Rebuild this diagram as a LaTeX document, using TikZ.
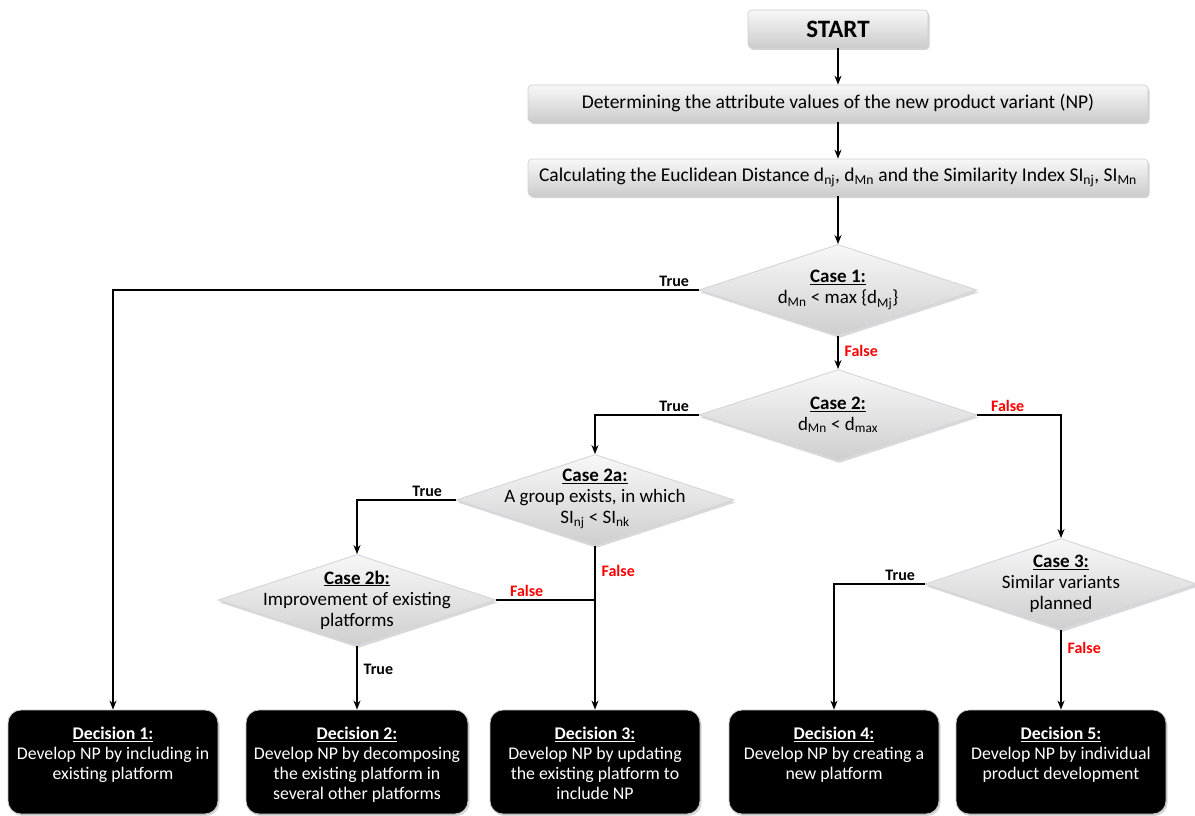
\documentclass[tikz,border=0pt]{standalone}
\usepackage{fontspec}
\setmainfont{Carlito}
\usetikzlibrary{shapes.geometric,arrows.meta,shadows}
\begin{document}
\begin{tikzpicture}[x=1pt,y=-1pt,
  every node/.style={inner sep=0pt},
  gbox/.style={rectangle, rounded corners=4pt, top color=gray!6, bottom color=gray!40,
    draw=blue!8!gray!35, line width=0.7pt,
    drop shadow={shadow xshift=1.5pt, shadow yshift=-2pt, opacity=0.35}},
  dia/.style={diamond, top color=gray!6, bottom color=gray!38, draw=blue!12!gray!30,
    line width=0.9pt, minimum width=278pt, minimum height=91pt,
    drop shadow={shadow xshift=1.5pt, shadow yshift=-2.5pt, opacity=0.3}},
  dec/.style={rectangle, rounded corners=13pt, fill=black, draw=gray!45, line width=0.8pt,
    minimum width=210pt, minimum height=104pt,
    drop shadow={shadow xshift=1.5pt, shadow yshift=-2pt, opacity=0.3}},
  btxt/.style={align=center, font=\fontsize{19.5}{22}\selectfont},
  dtxt/.style={align=center, font=\fontsize{19}{21}\selectfont},
  wtxt/.style={align=center, font=\fontsize{17.8}{20}\selectfont, text=white, anchor=north, yshift=-17pt},
  arr/.style={-{Stealth[length=9pt,width=7pt]}, line width=1.3pt},
  ln/.style={line width=1.3pt},
  tl/.style={font=\bfseries\fontsize{16}{18}\selectfont},
  fl/.style={tl, text=red},
]
\useasboundingbox (0,0) rectangle (1195,816);

% top boxes
\node[gbox, minimum width=180pt, minimum height=38pt] (start) at (838,29) {};
\node[font=\bfseries\fontsize{25}{28}\selectfont] (startt) at (start) {START};
\node[gbox, minimum width=620pt, minimum height=37pt] (b1) at (838,103.5) {};
\node[btxt] (b1t) at (b1) {Determining the attribute values of the new product variant (NP)};
\node[gbox, minimum width=620pt, minimum height=37pt] (b2) at (838,177.5) {};
\node[btxt] (b2t) at (b2) {Calculating the Euclidean Distance d\textsubscript{nj}, d\textsubscript{Mn} and the Similarity Index SI\textsubscript{nj}, SI\textsubscript{Mn}};

% decisions (diamonds)
\node[dia] (c1) at (838,290) {};
\node[dtxt] (c1t) at (c1) {\underline{\textbf{Case 1:}}\\d\textsubscript{Mn} < max \{d\textsubscript{Mj}\}};
\node[dia] (c2) at (838,415) {};
\node[dtxt] (c2t) at (c2) {\underline{\textbf{Case 2:}}\\d\textsubscript{Mn} < d\textsubscript{max}};
\node[dia] (c2a) at (595,500) {};
\node[dtxt] (c2at) at ([yshift=1pt]c2a.center) {\underline{\textbf{Case 2a:}}\\A group exists, in which\\SI\textsubscript{nj} < SI\textsubscript{nk}};
\node[dia] (c2b) at (357,600) {};
\node[dtxt] (c2bt) at (c2b) {\underline{\textbf{Case 2b:}}\\Improvement of existing\\platforms};
\node[dia, minimum width=272pt] (c3) at (1061,584) {};
\node[dtxt] (c3t) at (c3) {\underline{\textbf{Case 3:}}\\Similar variants\\planned};

% final decisions
\node[dec] (d1) at (113,762) {};
\node[wtxt] (d1t) at (d1.north) {\underline{\textbf{Decision 1:}}\\Develop NP by including in\\existing platform};
\node[dec, minimum width=222pt] (d2) at (357,762) {};
\node[wtxt] (d2t) at (d2.north) {\underline{\textbf{Decision 2:}}\\Develop NP by decomposing\\the existing platform in\\several other platforms};
\node[dec] (d3) at (595,762) {};
\node[wtxt] (d3t) at (d3.north) {\underline{\textbf{Decision 3:}}\\Develop NP by updating\\the existing platform to\\include NP};
\node[dec] (d4) at (834,762) {};
\node[wtxt] (d4t) at (d4.north) {\underline{\textbf{Decision 4:}}\\Develop NP by creating a\\new platform};
\node[dec] (d5) at (1061,762) {};
\node[wtxt] (d5t) at (d5.north) {\underline{\textbf{Decision 5:}}\\Develop NP by individual\\product development};

% connectors
\draw[arr] (start) -- (b1);
\draw[arr] (b1) -- (b2);
\draw[arr] (b2) -- (c1);
\draw[arr] (c1.west) node[tl, anchor=south east, xshift=-9pt, yshift=3pt] {True} -| (d1.north);
\draw[arr] (c1.south) -- node[fl, right, xshift=6pt, pos=0.45] {False} (c2.north);
\draw[arr] (c2.west) node[tl, anchor=south east, xshift=-9pt, yshift=3pt] {True} -| (c2a.north);
\draw[arr] (c2.east) node[fl, anchor=south west, xshift=13pt, yshift=3pt] {False} -| (c3.north);
\draw[arr] (c2a.west) node[tl, anchor=south east, xshift=-13pt, yshift=3pt] {True} -| (c2b.north);
\draw[arr] (c2a.south) -- node[fl, right, xshift=6pt, pos=0.15] {False} (d3.north);
\coordinate (j) at (c2b.east -| c2a.south);
\draw[ln] (c2b.east) node[fl, anchor=south west, xshift=13pt, yshift=3pt] {False} -- (j);
\draw[arr] (c2b.south) -- node[tl, right, xshift=6pt, pos=0.37] {True} (d2.north);
\draw[arr] (c3.west) node[tl, anchor=south east, xshift=-9pt, yshift=3pt] {True} -| (d4.north);
\draw[arr] (c3.south) -- node[fl, right, xshift=6pt, pos=0.22] {False} (d5.north);
\end{tikzpicture}
\end{document}
